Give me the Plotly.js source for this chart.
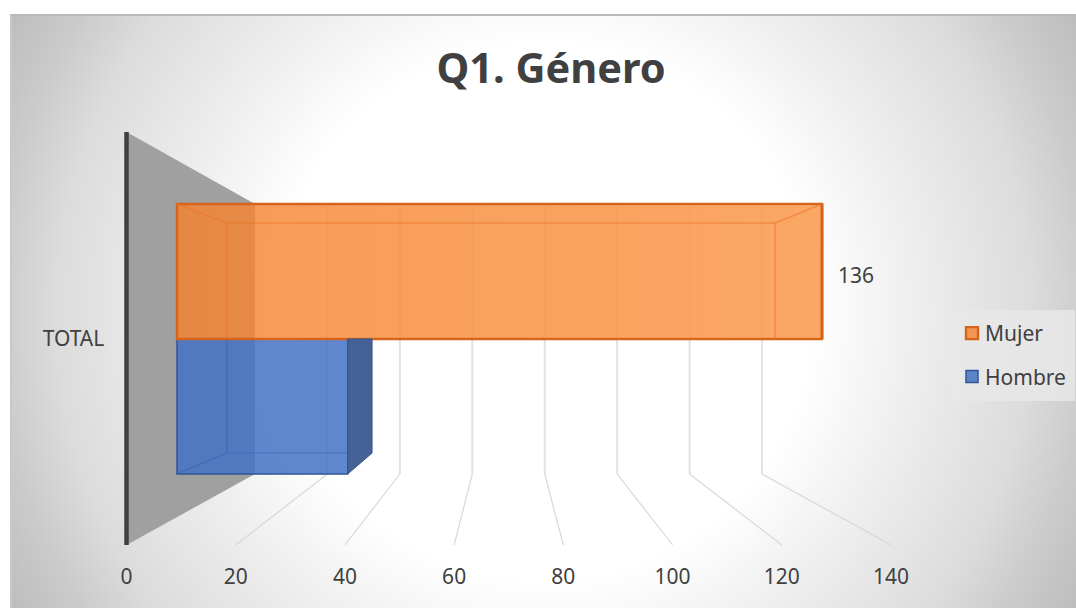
<!DOCTYPE html>
<html><head><meta charset="utf-8">
<script src="https://cdn.plot.ly/plotly-3.0.1.min.js"></script>
<style>
html,body{margin:0;padding:0;background:#fff;width:1076px;height:608px;overflow:hidden}
#card{position:absolute;left:10px;top:14px;width:1066px;height:594px;box-sizing:border-box;
border-top:2px solid #b9b9b9;border-left:2px solid #c8c8c8;
background:radial-gradient(circle farthest-corner at 50% 50%,#ffffff 0%,#ffffff 44%,#efefef 60%,#dcdcdc 80%,#cbcbcb 90%,#bdbdbd 100%)}
#chart{position:absolute;left:0;top:0;width:1076px;height:608px}
</style></head><body>
<div id="card"></div><div id="chart"></div>
<script>
const categories = ['TOTAL'];
const hombre = [36];
const mujer = [136];
const axisTicks = [0,20,40,60,80,100,120,140];

const W = 1076, H = 608;
const FONT = '"Noto Sans","Open Sans",sans-serif';
const TXT = '#404040';
// perspective planes of the fake-3D frame: pixel position of value 0 and pixels per unit
const FLOOR = {x0:126.5, k:764.5/140};
const WALL  = {x0:255,   k:507/140};
const FRONT = {x0:177,   k:645/136};
const BACK  = {x0:227,   k:548/136};
const xOn = (p,v)=> (p.x0 + p.k*v - FLOOR.x0)/FLOOR.k;   // value -> primary x axis units
const yp = px => 1 - px/H;                                // pixel row -> paper fraction
const TOP_F=132, FLOOR_F=545, TOP_B=204, FLOOR_B=474;
const BAR_TOP=204, BAR_MID=339, BAR_BOT=474, BAR_TOP_B=223, BAR_BOT_B=453;

function path(pts){return 'M'+pts.map(p=>xOn(p[0],p[1])+','+yp(p[2])).join('L')+'Z';}
const shapes = [];
// legend panel
shapes.push({type:'rect',xref:'paper',yref:'paper',layer:'below',x0:952/W,x1:1075/W,y0:yp(401),y1:yp(310),
  fillcolor:'rgba(232,232,232,0.85)',line:{width:0}});
// side wall
shapes.push({type:'path',xref:'x',yref:'paper',layer:'below',
  path:path([[FLOOR,0,TOP_F],[WALL,0,TOP_B],[WALL,0,FLOOR_B],[FLOOR,0,FLOOR_F]]),
  fillcolor:'#a0a0a0',line:{width:0}});
// vertical axis edge
shapes.push({type:'line',xref:'paper',yref:'paper',layer:'below',x0:FLOOR.x0/W,x1:FLOOR.x0/W,y0:yp(FLOOR_F),y1:yp(TOP_F),
  line:{color:'#404040',width:4.5}});
// grid lines on the back wall and the floor
axisTicks.slice(1).forEach(v=>{
  shapes.push({type:'line',xref:'x',yref:'paper',layer:'below',x0:xOn(WALL,v),x1:xOn(WALL,v),y0:yp(TOP_B),y1:yp(FLOOR_B),
    line:{color:'#e2e2e2',width:2}});
  shapes.push({type:'line',xref:'x',yref:'paper',layer:'below',x0:xOn(WALL,v),x1:xOn(FLOOR,v),y0:yp(FLOOR_B),y1:yp(FLOOR_F),
    line:{color:'#d8d8d8',width:1.2}});
});
const line = (c,w,a,b)=>({type:'line',xref:'x',yref:'paper',layer:'above',
  x0:xOn(a[0],a[1]),x1:xOn(b[0],b[1]),y0:yp(a[2]),y1:yp(b[2]),line:{color:c,width:w}});
// Mujer box faces
const m = mujer[0], h = hombre[0];
const OL='rgba(236,118,40,0.55)', BL='rgba(47,95,170,0.5)';
shapes.push(line(OL,1.5,[FRONT,0,BAR_TOP],[BACK,0,BAR_TOP_B]));
shapes.push(line(OL,1.5,[FRONT,m,BAR_TOP],[BACK,m,BAR_TOP_B]));
shapes.push(line(OL,1.5,[BACK,0,BAR_TOP_B],[BACK,m,BAR_TOP_B]));
shapes.push(line(OL,1.5,[BACK,0,BAR_TOP_B],[BACK,0,BAR_MID]));
shapes.push(line(OL,1.5,[BACK,m,BAR_TOP_B],[BACK,m,BAR_MID]));
shapes.push(line('#d6641c',3,[FRONT,m,BAR_TOP],[FRONT,m,BAR_MID]));
// Hombre box faces
shapes.push({type:'path',xref:'x',yref:'paper',layer:'above',
  path:path([[FRONT,h,BAR_MID],[BACK,h,BAR_MID],[BACK,h,BAR_BOT_B],[FRONT,h,BAR_BOT]]),
  fillcolor:'#456196',line:{color:'#38588f',width:1}});
shapes.push(line(BL,1.2,[FRONT,0,BAR_BOT],[BACK,0,BAR_BOT_B]));
shapes.push(line(BL,1.2,[BACK,0,BAR_MID],[BACK,0,BAR_BOT_B]));
shapes.push(line(BL,1.2,[BACK,0,BAR_BOT_B],[BACK,h,BAR_BOT_B]));

const traces = [
  {type:'bar',orientation:'h',name:'Hombre',legendgroup:'h',legendrank:2,x:hombre,y:categories,xaxis:'x2',yaxis:'y',
   marker:{color:'rgba(66,114,196,0.85)',line:{color:'#2f5597',width:1.5}},hoverinfo:'skip'},
  {type:'bar',orientation:'h',name:'Mujer',legendgroup:'m',legendrank:1,x:mujer,y:categories,xaxis:'x2',yaxis:'y',
   marker:{color:'rgba(246,130,45,0.8)',line:{color:'#d6641c',width:2.4}},hoverinfo:'skip'},
  // light sheen that brightens the Mujer box toward its far end
  {type:'scatter',mode:'none',showlegend:false,hoverinfo:'skip',xaxis:'x2',yaxis:'y2',
   x:[0,m,m,0,0],y:[yp(BAR_MID-1),yp(BAR_MID-1),yp(BAR_TOP+1),yp(BAR_TOP+1),yp(BAR_MID-1)],fill:'toself',
   fillgradient:{type:'horizontal',colorscale:[[0,'rgba(255,190,130,0)'],[1,'rgba(255,190,130,0.35)']]}}
];

const layout = {
  width:W,height:H,margin:{l:0,r:0,t:0,b:0},
  paper_bgcolor:'rgba(0,0,0,0)',plot_bgcolor:'rgba(0,0,0,0)',
  font:{family:FONT,color:TXT,size:21},
  title:{text:'<b>Q1. Género</b>',font:{family:FONT,size:41.5,color:TXT},x:551/W,xanchor:'center',y:1-68/H,yanchor:'middle'},
  barmode:'group',bargap:1-270/412,bargroupgap:0,
  xaxis:{domain:[FLOOR.x0/W,891/W],range:[0,140],anchor:'y',tickvals:axisTicks,ticktext:axisTicks.map(String),
    showgrid:false,zeroline:false,showline:false,ticks:'outside',ticklen:13,tickcolor:'rgba(0,0,0,0)',
    tickfont:{family:FONT,size:21,color:TXT},fixedrange:true},
  xaxis2:{overlaying:'x',anchor:'y',domain:[FLOOR.x0/W,891/W],
    range:[(FLOOR.x0-FRONT.x0)/FRONT.k,(891-FRONT.x0)/FRONT.k],visible:false,fixedrange:true},
  yaxis:{domain:[yp(FLOOR_F),yp(TOP_F+1)],type:'category',range:[-0.5,0.5],anchor:'x',
    showgrid:false,zeroline:false,showline:false,
    ticks:'outside',ticklen:17,tickcolor:'rgba(0,0,0,0)',tickfont:{family:FONT,size:21,color:TXT},fixedrange:true},
  yaxis2:{overlaying:'y',anchor:'x2',domain:[yp(FLOOR_F),yp(TOP_F+1)],range:[yp(FLOOR_F),yp(TOP_F+1)],visible:false,fixedrange:true},
  legend:{x:945/W,xanchor:'left',y:yp(313),yanchor:'top',bgcolor:'rgba(0,0,0,0)',traceorder:'grouped',
    tracegroupgap:13,font:{family:FONT,size:21,color:TXT},itemclick:false,itemdoubleclick:false},
  shapes:shapes,
  annotations:[{xref:'x2',yref:'paper',x:mujer[0],y:yp(275),xanchor:'left',yanchor:'middle',xshift:14,showarrow:false,
    text:String(mujer[0]),font:{family:FONT,size:21,color:TXT}}]
};
Plotly.newPlot('chart',traces,layout,{displayModeBar:false}).then(()=>{
  document.querySelectorAll('#chart .legend .legendsymbols').forEach(n=>n.setAttribute('transform','translate(7,0)'));
});
</script></body></html>
